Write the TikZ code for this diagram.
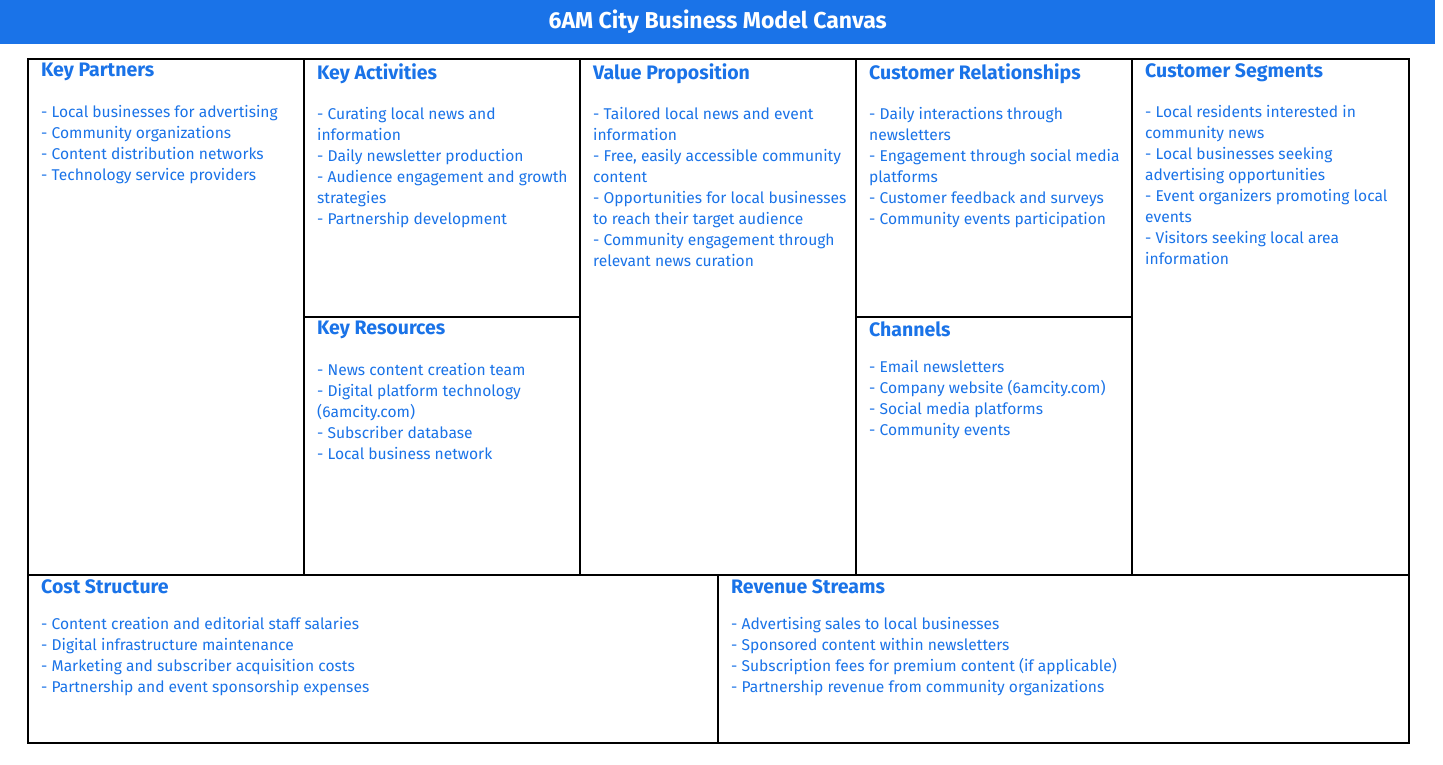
\documentclass[tikz,border=0pt]{standalone}
\usepackage{fontspec}
\setmainfont{Fira Sans}
\usetikzlibrary{positioning}
\definecolor{canvasblue}{HTML}{1A73E8}
\tikzset{
	cell/.style={draw=black, line width=1.5pt, anchor=north west, inner sep=0pt},
	heading/.style={anchor=north west, inner sep=0pt, text=canvasblue, font=\fontsize{19.5}{22}\selectfont\bfseries},
	items/.style={anchor=north west, inner sep=0pt, text=canvasblue, align=left, font=\fontsize{15.6}{21}\selectfont}
}
\begin{document}
\begin{tikzpicture}[x=1pt, y=-1pt]
	\useasboundingbox[fill=white] (0,0) rectangle (1443,764);
	% === TITLE ===
	\node[fill=canvasblue, anchor=north west, minimum width=1435pt, minimum height=44pt, inner sep=0pt,
		text=white, font=\fontsize{23}{26}\selectfont\bfseries] (title) at (0,0) {6AM City Business Model Canvas};
	
	% === CELLS ===
	\node[cell, minimum width=276pt, minimum height=516pt] (kp) at (27,58) {};
	\node[cell, minimum width=276pt, minimum height=258pt] (ka) at (303,58) {};
	\node[cell, minimum width=276pt, minimum height=258pt] (kr) at (303,316) {};
	\node[cell, minimum width=276pt, minimum height=516pt] (vp) at (579,58) {};
	\node[cell, minimum width=276pt, minimum height=258pt] (cr) at (855,58) {};
	\node[cell, minimum width=276pt, minimum height=258pt] (ch) at (855,316) {};
	\node[cell, minimum width=277pt, minimum height=516pt] (cs) at (1131,58) {};
	\node[cell, minimum width=690pt, minimum height=168pt] (cost) at (27,574) {};
	\node[cell, minimum width=691pt, minimum height=168pt] (rev) at (717,574) {};
	
	% === TEXTS ===
	\node[heading] (kph) at ([shift={(14,5)}]kp.north west) {Key Partners};
	\node[items, below=24pt of kph.south west, anchor=north west] {- Local businesses for advertising\\- Community organizations\\- Content distribution networks\\- Technology service providers};
	
	\node[heading] (kah) at ([shift={(14,5)}]ka.north west) {Key Activities};
	\node[items, below=24pt of kah.south west, anchor=north west] {- Curating local news and\\information\\- Daily newsletter production\\- Audience engagement and growth\\strategies\\- Partnership development};
	
	\node[heading] (krh) at ([shift={(14,5)}]kr.north west) {Key Resources};
	\node[items, below=24pt of krh.south west, anchor=north west] {- News content creation team\\- Digital platform technology\\(6amcity.com)\\- Subscriber database\\- Local business network};
	
	\node[heading] (vph) at ([shift={(14,5)}]vp.north west) {Value Proposition};
	\node[items, below=24pt of vph.south west, anchor=north west] {- Tailored local news and event\\information\\- Free, easily accessible community\\content\\- Opportunities for local businesses\\to reach their target audience\\- Community engagement through\\relevant news curation};
	
	\node[heading] (crh) at ([shift={(14,5)}]cr.north west) {Customer Relationships};
	\node[items, below=24pt of crh.south west, anchor=north west] {- Daily interactions through\\newsletters\\- Engagement through social media\\platforms\\- Customer feedback and surveys\\- Community events participation};
	
	\node[heading] (chh) at ([shift={(14,5)}]ch.north west) {Channels};
	\node[items, below=24pt of chh.south west, anchor=north west] {- Email newsletters\\- Company website (6amcity.com)\\- Social media platforms\\- Community events};
	
	\node[heading] (csh) at ([shift={(14,5)}]cs.north west) {Customer Segments};
	\node[items, below=24pt of csh.south west, anchor=north west] {- Local residents interested in\\community news\\- Local businesses seeking\\advertising opportunities\\- Event organizers promoting local\\events\\- Visitors seeking local area\\information};
	
	\node[heading] (costh) at ([shift={(14,5)}]cost.north west) {Cost Structure};
	\node[items, below=24pt of costh.south west, anchor=north west] {- Content creation and editorial staff salaries\\- Digital infrastructure maintenance\\- Marketing and subscriber acquisition costs\\- Partnership and event sponsorship expenses};
	
	\node[heading] (revh) at ([shift={(14,5)}]rev.north west) {Revenue Streams};
	\node[items, below=24pt of revh.south west, anchor=north west] {- Advertising sales to local businesses\\- Sponsored content within newsletters\\- Subscription fees for premium content (if applicable)\\- Partnership revenue from community organizations};
\end{tikzpicture}
\end{document}
